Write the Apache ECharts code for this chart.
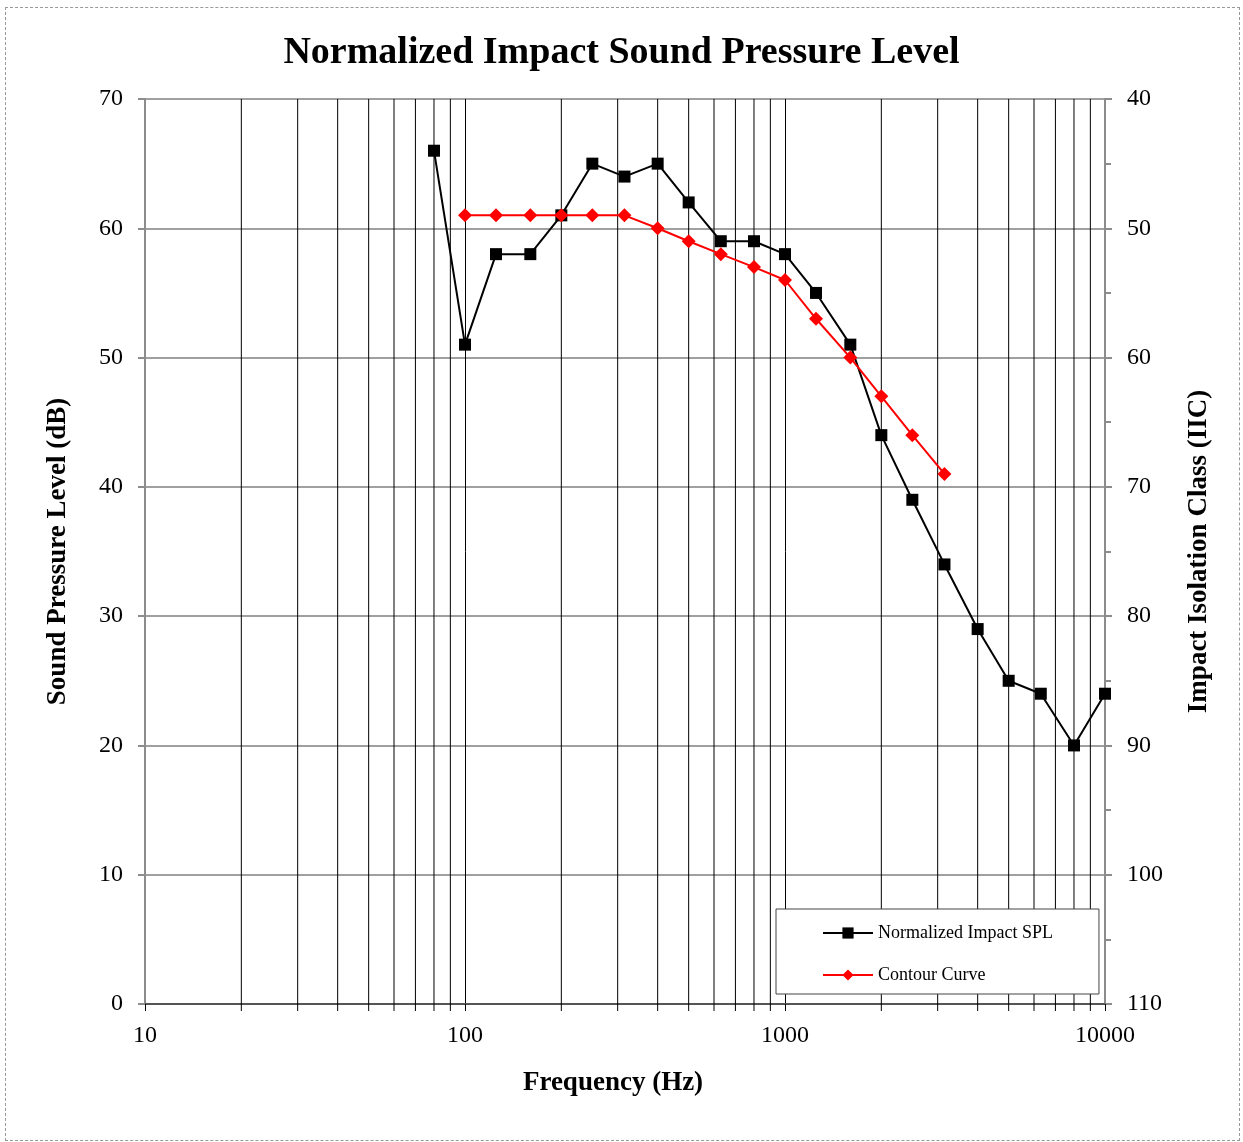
<!DOCTYPE html>
<html>
<head>
<meta charset="utf-8">
<script src="https://cdn.jsdelivr.net/npm/echarts@6/dist/echarts.min.js"></script>
<style>
  html, body { margin: 0; padding: 0; background: #fff; }
  #frame {
    position: absolute; left: 5px; top: 7px; width: 1233px; height: 1132px;
    border: 1px dashed #999;
  }
  #chart { position: absolute; left: 0; top: 0; width: 1243px; height: 1142px; }
</style>
</head>
<body>
<div id="frame"></div>
<div id="chart"></div>
<script>
// third-octave frequencies (Hz)
const spl_freq = [80, 100, 125, 160, 200, 250, 315, 400, 500, 630, 800, 1000, 1250, 1600, 2000, 2500, 3150, 4000, 5000, 6300, 8000, 10000]
const spl_values = [66, 51, 58, 58, 61, 65, 64, 65, 62, 59, 59, 58, 55, 51, 44, 39, 34, 29, 25, 24, 20, 24]

const contour_freq = [100, 125, 160, 200, 250, 315, 400, 500, 630, 800, 1000, 1250, 1600, 2000, 2500, 3150]
const contour_values = [61, 61, 61, 61, 61, 61, 60, 59, 58, 57, 56, 53, 50, 47, 44, 41]

// minor log gridlines
const minorFreqs = [20, 30, 40, 50, 60, 70, 80, 90, 200, 300, 400, 500, 600, 700, 800, 900,
  2000, 3000, 4000, 5000, 6000, 7000, 8000, 9000]

const serif = '"Liberation Serif", "DejaVu Serif", serif'
const axisGray = '#8c8c8c'
const nameStyle = { fontSize: 27, fontWeight: 'bold', color: '#000', fontFamily: serif }

const chart = echarts.init(document.getElementById('chart'))
chart.setOption({
  animation: false,
  textStyle: { fontFamily: serif },
  title: {
    text: 'Normalized Impact Sound Pressure Level',
    left: 'center',
    top: 29,
    textStyle: { fontSize: 38, fontWeight: 'bold', color: '#000', fontFamily: serif }
  },
  grid: { left: 145, right: 138, top: 99, bottom: 138 },
  legend: {
    orient: 'vertical',
    left: 776,
    top: 909,
    padding: [15, 46, 10, 46],
    itemWidth: 50,
    itemHeight: 14,
    itemGap: 24,
    backgroundColor: '#fff',
    borderColor: '#444',
    borderWidth: 1,
    textStyle: { fontSize: 18, color: '#000', fontFamily: serif },
    data: ['Normalized Impact SPL', 'Contour Curve']
  },
  xAxis: {
    type: 'log',
    logBase: 10,
    min: 10,
    max: 10000,
    name: 'Frequency (Hz)',
    nameLocation: 'middle',
    nameGap: 66,
    nameTextStyle: Object.assign({ padding: [0, 24, 0, 0] }, nameStyle),
    axisLine: { onZero: false, lineStyle: { color: '#555', width: 2 } },
    axisTick: { show: true, length: 7, lineStyle: { color: '#000', width: 1 } },
    axisLabel: { fontSize: 24, color: '#000', margin: 20, fontFamily: serif, formatter: v => String(Math.round(v)) },
    splitLine: { show: true, lineStyle: { color: '#000', width: 1 } }
  },
  yAxis: [{
    type: 'value',
    min: 0,
    max: 70,
    interval: 10,
    name: 'Sound Pressure Level (dB)',
    nameLocation: 'middle',
    nameGap: 73,
    nameTextStyle: nameStyle,
    axisLine: { show: true, lineStyle: { color: axisGray, width: 2 } },
    axisTick: { show: true, length: 7, lineStyle: { color: axisGray, width: 2 } },
    axisLabel: { fontSize: 24, color: '#000', margin: 22, fontFamily: serif },
    splitLine: { show: true, lineStyle: { color: '#808080', width: 1.5 } }
  }, {
    type: 'value',
    min: 40,
    max: 110,
    interval: 10,
    inverse: true,
    position: 'right',
    name: 'Impact Isolation Class (IIC)',
    nameLocation: 'middle',
    nameGap: 81,
    nameTextStyle: nameStyle,
    axisLine: { show: true, lineStyle: { color: axisGray, width: 2 } },
    axisTick: { show: true, length: 7, lineStyle: { color: axisGray, width: 2 } },
    minorTick: { show: true, splitNumber: 2, length: 6, lineStyle: { color: axisGray, width: 2 } },
    axisLabel: { fontSize: 24, color: '#000', margin: 22, fontFamily: serif },
    splitLine: { show: false }
  }],
  series: [{
    // minor vertical gridlines + ticks at 20, 30, ... 9000
    type: 'custom',
    silent: true,
    clip: false,
    z: 1,
    data: minorFreqs.map(f => [f]),
    renderItem: (params, api) => {
      const f = api.value(0)
      const top = api.coord([f, 70])
      const bot = api.coord([f, 0])
      return {
        type: 'line',
        shape: { x1: top[0], y1: top[1], x2: bot[0], y2: bot[1] + 7 },
        style: { stroke: '#000', lineWidth: 1 }
      }
    }
  }, {
    name: 'Normalized Impact SPL',
    type: 'line',
    z: 3,
    data: spl_freq.map((f, i) => [f, spl_values[i]]),
    symbol: 'rect',
    symbolSize: 12,
    lineStyle: { color: '#000', width: 2 },
    itemStyle: { color: '#000' }
  }, {
    name: 'Contour Curve',
    type: 'line',
    z: 4,
    data: contour_freq.map((f, i) => [f, contour_values[i]]),
    symbol: 'diamond',
    symbolSize: 14,
    lineStyle: { color: '#ff0000', width: 2 },
    itemStyle: { color: '#ff0000' }
  }]
})
</script>
</body>
</html>
